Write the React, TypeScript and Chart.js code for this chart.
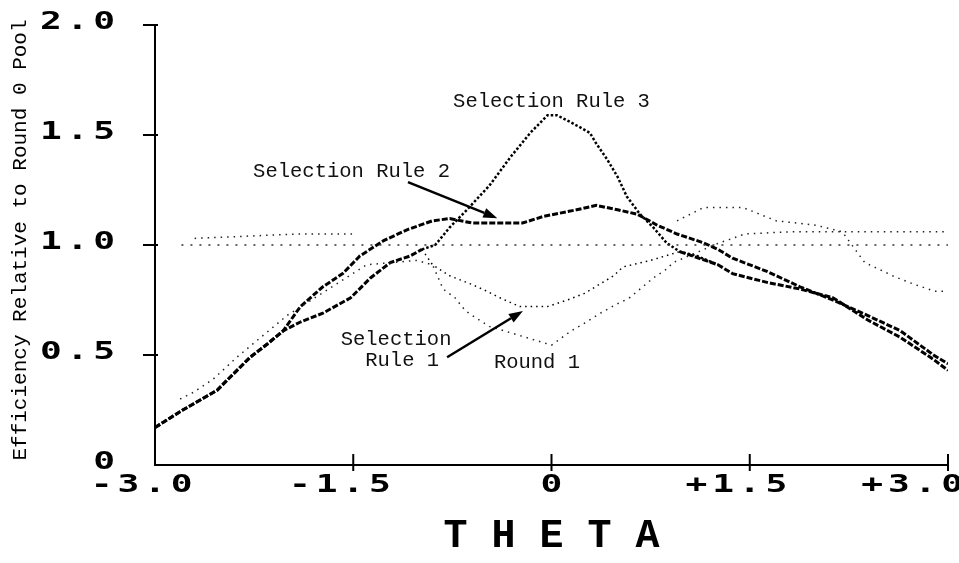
import React, { useEffect, useRef } from "react";
import { Chart, registerables } from "chart.js";
Chart.register(...registerables);

// ---------- data ----------
const xTickValues = [-3, -1.5, 0, 1.5, 3];
const xTickLabels = ["-3.0", "-1.5", "0", "+1.5", "+3.0"];
const yTickValues = [0, 0.5, 1.0, 1.5, 2.0];
const yTickLabels = ["0", "0.5", "1.0", "1.5", "2.0"];
const xTitle = "T H E T A";
const yTitle = "Efficiency Relative to Round 0 Pool";

const rule2X = [-3.0, -2.79, -2.53, -2.28, -2.15, -2.03, -1.9, -1.73, -1.58, -1.45, -1.27, -1.09, -0.9, -0.77, -0.6, -0.39, -0.22, -0.06, 0.19, 0.34, 0.5, 0.65, 0.8, 0.95, 1.15, 1.26, 1.37, 1.63, 1.88, 2.13, 2.39, 2.64, 2.89, 3.0];
const rule2Y = [0.17, 0.25, 0.34, 0.49, 0.55, 0.61, 0.72, 0.81, 0.87, 0.95, 1.02, 1.07, 1.11, 1.12, 1.1, 1.1, 1.1, 1.13, 1.16, 1.18, 1.16, 1.14, 1.09, 1.05, 1.01, 0.98, 0.94, 0.88, 0.81, 0.75, 0.68, 0.61, 0.5, 0.46];

const rule1X = [-3.0, -2.79, -2.53, -2.28, -2.15, -2.03, -1.9, -1.73, -1.52, -1.37, -1.22, -1.07, -0.98, -0.9, -0.77, -0.6, -0.49, -0.39, -0.24, -0.03, 0.12, 0.25, 0.47, 0.54, 0.75, 0.97, 1.26, 1.37, 1.63, 1.88, 2.13, 2.39, 2.64, 2.89, 3.0];
const rule1Y = [0.17, 0.25, 0.34, 0.49, 0.55, 0.61, 0.65, 0.69, 0.76, 0.85, 0.92, 0.95, 0.98, 0.91, 0.86, 0.82, 0.79, 0.76, 0.72, 0.72, 0.75, 0.78, 0.86, 0.9, 0.93, 0.97, 0.91, 0.87, 0.83, 0.8, 0.76, 0.66, 0.58, 0.48, 0.43];
const rule1DipStart = -0.98;
const rule1DipEnd = 0.97;

const rule3X = [-0.98, -0.88, -0.77, -0.64, -0.47, -0.31, -0.16, -0.03, 0.04, 0.14, 0.29, 0.34, 0.42, 0.5, 0.57, 0.67, 0.77, 0.87, 0.97, 1.1, 1.26];
const rule3Y = [0.98, 1.0, 1.08, 1.16, 1.27, 1.4, 1.51, 1.59, 1.59, 1.56, 1.51, 1.46, 1.39, 1.31, 1.22, 1.14, 1.08, 1.01, 0.97, 0.95, 0.91];

const round1X = [-2.81, -2.71, -2.56, -2.38, -2.0, -1.4, -1.02, -0.9, -0.82, -0.73, -0.65, -0.6, -0.47, 0.0, 0.15, 0.25, 0.37, 0.52, 0.58, 0.77, 0.87, 0.92, 1.27, 1.37, 1.46, 1.8, 2.2, 2.6, 3.0];
const round1Y = [0.3, 0.33, 0.39, 0.49, 0.68, 0.91, 0.93, 0.91, 0.8, 0.76, 0.7, 0.68, 0.63, 0.545, 0.61, 0.645, 0.69, 0.74, 0.755, 0.85, 0.89, 0.92, 1.01, 1.03, 1.05, 1.06, 1.06, 1.06, 1.06];

const otherX = [-2.7, -1.92, -1.49, 0.0, 0.95, 1.05, 1.15, 1.3, 1.45, 1.7, 2.0, 2.2, 2.37, 2.6, 2.75, 2.9, 3.0];
const otherY = [1.03, 1.05, 1.05, null, 1.11, 1.14, 1.17, 1.17, 1.17, 1.11, 1.09, 1.06, 0.92, 0.855, 0.82, 0.79, 0.79];

const baseX = [-2.8, 3.0];
const baseY = [1.0, 1.0];

// annotations (in data units)
const textLabels = [
  { text: "Selection Rule 3", x: 0.0, y: 1.65 },
  { text: "Selection Rule 2", x: -1.513, y: 1.336 },
  { text: "Selection", x: -1.176, y: 0.568 },
  { text: "Rule 1", x: -1.13, y: 0.473 },
  { text: "Round 1", x: -0.11, y: 0.464 },
];
const arrows = [
  { x0: -1.086, y0: 1.286, x1: -0.41, y1: 1.122 },
  { x0: -0.79, y0: 0.49, x1: -0.216, y1: 0.7 },
];

const pts = (xs: number[], ys: (number | null)[]) => xs.map((x, i) => ({ x, y: ys[i] }));

const LABEL_FONT = '20.5px "Liberation Mono", "Courier New", monospace';
const TICK_FONT = 'bold 25px "DejaVu Sans Mono", monospace';
const TICK_SX = 1.45;
const TICK_LS = 3.3;

function wideText(ctx: any, text: string, x: number, y: number, align: string) {
  ctx.save();
  ctx.font = TICK_FONT;
  ctx.letterSpacing = TICK_LS + "px";
  ctx.textAlign = "left";
  ctx.textBaseline = "middle";
  const sx = TICK_SX;
  const full = ctx.measureText(text).width * sx;
  const w = full - TICK_LS * sx;
  let start = x;
  if (align === "right") start = x - w;
  if (align === "center") {
    const signed = text[0] === "-" || text[0] === "+";
    if (signed) {
      const sw = ctx.measureText(text[0]).width * sx;
      start = x - (w - sw) / 2 - sw;
    } else {
      start = x - w / 2;
    }
  }
  if (start + w > ctx.canvas.width + 4) start = ctx.canvas.width + 4 - w;
  ctx.translate(start, y);
  ctx.scale(sx, 1);
  ctx.fillText(text, 0, 0);
  ctx.restore();
}

const overlay = {
  id: "overlay",
  afterDraw(chart: any) {
    const { ctx } = chart;
    const xs = chart.scales.x;
    const ys = chart.scales.y;
    const x0 = xs.getPixelForValue(-3);
    const x3 = xs.getPixelForValue(3);
    const yb = ys.getPixelForValue(0);
    const yt = ys.getPixelForValue(2);
    ctx.save();
    ctx.fillStyle = "#000";
    ctx.strokeStyle = "#000";
    ctx.lineWidth = 2;
    ctx.beginPath();
    ctx.moveTo(x0, yt);
    ctx.lineTo(x0, yb);
    ctx.lineTo(x3, yb);
    ctx.stroke();
    // y ticks
    yTickValues.forEach((v, i) => {
      const py = ys.getPixelForValue(v);
      if (v > 0) {
        ctx.beginPath();
        ctx.moveTo(x0 - 12, py);
        ctx.lineTo(x0 + 3, py);
        ctx.stroke();
      }
      wideText(ctx, yTickLabels[i], x0 - 40, py - 3, "right");
    });
    // x ticks
    xTickValues.forEach((v, i) => {
      const px = xs.getPixelForValue(v);
      if (v > -3) {
        ctx.beginPath();
        ctx.moveTo(px, yb - 11);
        ctx.lineTo(px, yb + 6);
        ctx.stroke();
      }
      wideText(ctx, xTickLabels[i], px, yb + 20, "center");
    });
    // axis titles
    ctx.font = 'bold 40px "Liberation Mono", "Courier New", monospace';
    ctx.textAlign = "center";
    ctx.textBaseline = "middle";
    ctx.fillText(xTitle, xs.getPixelForValue(0), yb + 72);
    ctx.save();
    ctx.font = '21px "Liberation Mono", "Courier New", monospace';
    ctx.translate(20, (yt + yb) / 2 - 5);
    ctx.rotate(-Math.PI / 2);
    ctx.fillText(yTitle, 0, 0);
    ctx.restore();
    // labels
    ctx.font = LABEL_FONT;
    ctx.fillStyle = "#111";
    textLabels.forEach((l) => {
      ctx.fillText(l.text, xs.getPixelForValue(l.x), ys.getPixelForValue(l.y));
    });
    // arrows
    ctx.fillStyle = "#000";
    ctx.lineWidth = 2.5;
    arrows.forEach((a) => {
      const ax = xs.getPixelForValue(a.x0);
      const ay = ys.getPixelForValue(a.y0);
      const bx = xs.getPixelForValue(a.x1);
      const by = ys.getPixelForValue(a.y1);
      const ang = Math.atan2(by - ay, bx - ax);
      const hl = 14;
      const hw = 5;
      const cx = bx - hl * Math.cos(ang);
      const cy = by - hl * Math.sin(ang);
      ctx.beginPath();
      ctx.moveTo(ax, ay);
      ctx.lineTo(cx, cy);
      ctx.stroke();
      ctx.beginPath();
      ctx.moveTo(bx, by);
      ctx.lineTo(cx + hw * Math.sin(ang), cy - hw * Math.cos(ang));
      ctx.lineTo(cx - hw * Math.sin(ang), cy + hw * Math.cos(ang));
      ctx.closePath();
      ctx.fill();
    });
    ctx.restore();
  },
};

export default function App() {
  const ref = useRef<HTMLCanvasElement>(null);
  useEffect(() => {
    const inDip = (c: any) => c.p0.parsed.x >= rule1DipStart && c.p1.parsed.x <= rule1DipEnd;
    const chart = new Chart(ref.current as HTMLCanvasElement, {
      type: "line",
      data: {
        datasets: [
          {
            label: "Round 0",
            data: pts(baseX, baseY),
            borderColor: "#333",
            borderWidth: 1.5,
            borderDash: [2, 7],
          },
          {
            label: "Round 1",
            data: pts(round1X, round1Y),
            borderColor: "#222",
            borderWidth: 1.5,
            borderDash: [1.5, 5],
          },
          {
            label: "Other",
            data: pts(otherX, otherY),
            borderColor: "#222",
            borderWidth: 1.5,
            borderDash: [1.5, 5],
            spanGaps: false,
          },
          {
            label: "Selection Rule 3",
            data: pts(rule3X, rule3Y),
            borderColor: "#000",
            borderWidth: 2.5,
            borderDash: [2.5, 2],
          },
          {
            label: "Selection Rule 1",
            data: pts(rule1X, rule1Y),
            borderColor: "#000",
            borderWidth: 3,
            borderDash: [6, 2],
            segment: {
              borderWidth: (c: any) => (inDip(c) ? 1.5 : 3),
              borderDash: (c: any) => (inDip(c) ? [1.5, 4] : [6, 2]),
            },
          },
          {
            label: "Selection Rule 2",
            data: pts(rule2X, rule2Y),
            borderColor: "#000",
            borderWidth: 3,
            borderDash: [6, 2],
          },
        ] as any,
      },
      options: {
        responsive: false,
        devicePixelRatio: 1,
        animation: false,
        layout: { padding: { left: 155, right: 11, top: 25, bottom: 98 } },
        elements: { point: { radius: 0 }, line: { tension: 0 } },
        scales: {
          x: { type: "linear", min: -3, max: 3, display: false },
          y: { type: "linear", min: 0, max: 2, display: false },
        },
        plugins: { legend: { display: false }, tooltip: { enabled: false } },
      } as any,
      plugins: [overlay],
    });
    return () => chart.destroy();
  }, []);
  return (
    <div style={{ position: "fixed", left: 0, top: 0, width: 959, height: 563, background: "#fff" }}>
      <canvas ref={ref} width={959} height={563} style={{ display: "block", width: 959, height: 563 }} />
    </div>
  );
}
